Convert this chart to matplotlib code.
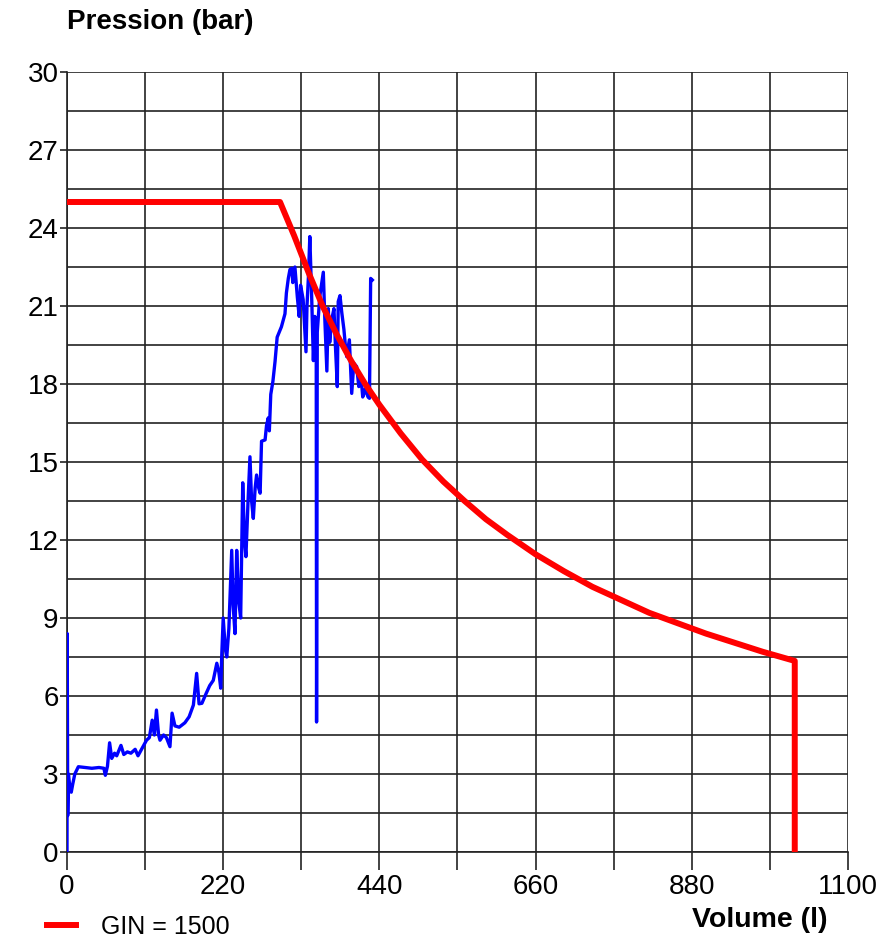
import matplotlib.pyplot as plt
from matplotlib.lines import Line2D

# =========================
# DATA
# =========================
# red curve: GIN = 1500 limit
gin_volume = [0, 300, 320, 340, 360, 380, 400, 420, 440, 470, 500, 530, 560,
              590, 620, 660, 700, 740, 780, 820, 860, 900, 940, 980, 1025, 1025]
gin_pressure = [25, 25, 23.7, 22.3, 21.0, 19.9, 18.9, 18.0, 17.2, 16.1, 15.1,
                14.25, 13.5, 12.8, 12.2, 11.45, 10.8, 10.2, 9.7, 9.2, 8.8, 8.4,
                8.05, 7.7, 7.35, 0]

# blue curve: measured injection
meas_volume = [0, 0.3, 1, 2, 4, 6, 8, 11, 16, 25, 35, 45, 52, 54, 57, 60, 63,
               67, 70, 76, 80, 85, 90, 96, 100, 104, 108, 112, 116, 120, 123,
               126, 129, 131, 136, 140, 145, 148, 152, 158, 166, 172, 178,
               182.6, 186, 190, 196, 201, 206, 211, 214, 216.5, 218, 220, 223,
               225, 228, 232, 234, 236.6, 239, 242, 244.6, 247.5, 250, 252,
               255, 257.7, 260, 262.4, 265, 267, 270, 272, 274, 279, 281,
               283.5, 285, 287, 290, 293, 296, 299, 302, 307, 309, 311.7, 314,
               316.5, 318, 321, 324.4, 327, 329, 332.6, 336.6, 338, 340, 342,
               344.6, 347, 349, 351, 351.5, 352.5, 356, 361, 363, 366, 368,
               370, 373, 376, 378, 380.7, 382, 384.5, 387, 390, 392, 394,
               397.7, 401, 404, 408, 411, 414.5, 416.5, 420, 424, 426, 427.7,
               430]
meas_pressure = [0, 8.4, 1.4, 3.0, 2.5, 2.3, 2.6, 3.0, 3.28, 3.25, 3.22, 3.25,
                 3.22, 2.95, 3.3, 4.2, 3.6, 3.8, 3.7, 4.1, 3.75, 3.85, 3.8,
                 3.95, 3.7, 3.9, 4.1, 4.3, 4.4, 5.07, 4.5, 5.46, 4.5, 4.3, 4.5,
                 4.4, 4.05, 5.34, 4.85, 4.8, 4.97, 5.2, 5.65, 6.87, 5.7, 5.72,
                 6.1, 6.4, 6.6, 7.26, 6.9, 6.3, 7.6, 9.0, 7.8, 7.5, 8.6, 11.6,
                 9.5, 8.4, 11.6, 9.6, 9.0, 14.2, 12.0, 11.36, 13.5, 15.2, 13.5,
                 12.83, 14.0, 14.5, 14.0, 13.8, 15.8, 15.85, 16.4, 16.7, 16.2,
                 17.6, 18.1, 18.86, 19.8, 20.0, 20.2, 20.7, 21.5, 22.06, 22.4,
                 22.45, 21.9, 22.5, 21.35, 20.6, 21.8, 21.25, 19.24, 21.0, 22.1,
                 23.67, 21.36, 18.9, 20.6, 20.3, 5.0, 20.0, 21.36, 22.3, 20.6,
                 18.5, 20.9, 19.6, 20.5, 20.9, 19.5, 17.9, 21.17, 21.4, 20.75,
                 20.1, 19.5, 19.05, 19.7, 17.64, 18.8, 18.67, 17.9, 18.17, 17.5,
                 17.8, 17.5, 17.45, 22.06, 22.0]

x_major = [0, 220, 440, 660, 880, 1100]
x_minor = [110, 330, 550, 770, 990]
y_major = [0, 3, 6, 9, 12, 15, 18, 21, 24, 27, 30]
y_minor = [1.5, 4.5, 7.5, 10.5, 13.5, 16.5, 19.5, 22.5, 25.5, 28.5]

# =========================
# PLOT
# =========================
plt.rcParams['font.family'] = ['Liberation Sans Narrow', 'Liberation Sans']

fig = plt.figure(figsize=(8.84, 9.4), dpi=100)
ax = fig.add_axes([67 / 884, 88 / 940, 781 / 884, 780 / 940])

ax.plot(meas_volume, meas_pressure, color="#0000ff", lw=2.4, zorder=3)
ax.plot(gin_volume, gin_pressure, color="#ff0000", lw=4.3, zorder=4,
        solid_capstyle="butt", solid_joinstyle="round")

ax.set_xlim(0, 1100)
ax.set_ylim(0, 30)
ax.set_xticks(x_major)
ax.set_xticks(x_minor, minor=True)
ax.set_yticks(y_major)
ax.set_yticks(y_minor, minor=True)
ax.grid(True, which="both", color="#222222", lw=1.2, zorder=1)
ax.set_axisbelow(True)

for s in ["top", "right"]:
    ax.spines[s].set_visible(False)
for s in ["left", "bottom"]:
    ax.spines[s].set_color("#222222")
    ax.spines[s].set_linewidth(1.2)

ax.tick_params(axis="x", which="both", length=13, width=1.2, color="#222222",
               labelsize=20, pad=3)
ax.tick_params(axis="y", which="major", length=5, width=1.2, color="#222222",
               labelsize=20, pad=1)
ax.tick_params(axis="y", which="minor", length=0)

fig.text(67 / 884, 1 - 22 / 940, "Pression (bar)", fontsize=20,
         fontweight="bold", family="Liberation Sans", va="center", ha="left")
fig.text(828 / 884, 1 - 920 / 940, "Volume (l)", fontsize=20.5,
         fontweight="bold", family="Liberation Sans", va="center", ha="right")

handle = Line2D([], [], color="#ff0000", lw=4.3)
fig.legend([handle], ["GIN = 1500"], loc="center left",
           bbox_to_anchor=(0.028, 1 - 927 / 940), frameon=False, fontsize=18,
           handlelength=1.15, handletextpad=1.0)

fig.savefig("out.png", dpi=100)
